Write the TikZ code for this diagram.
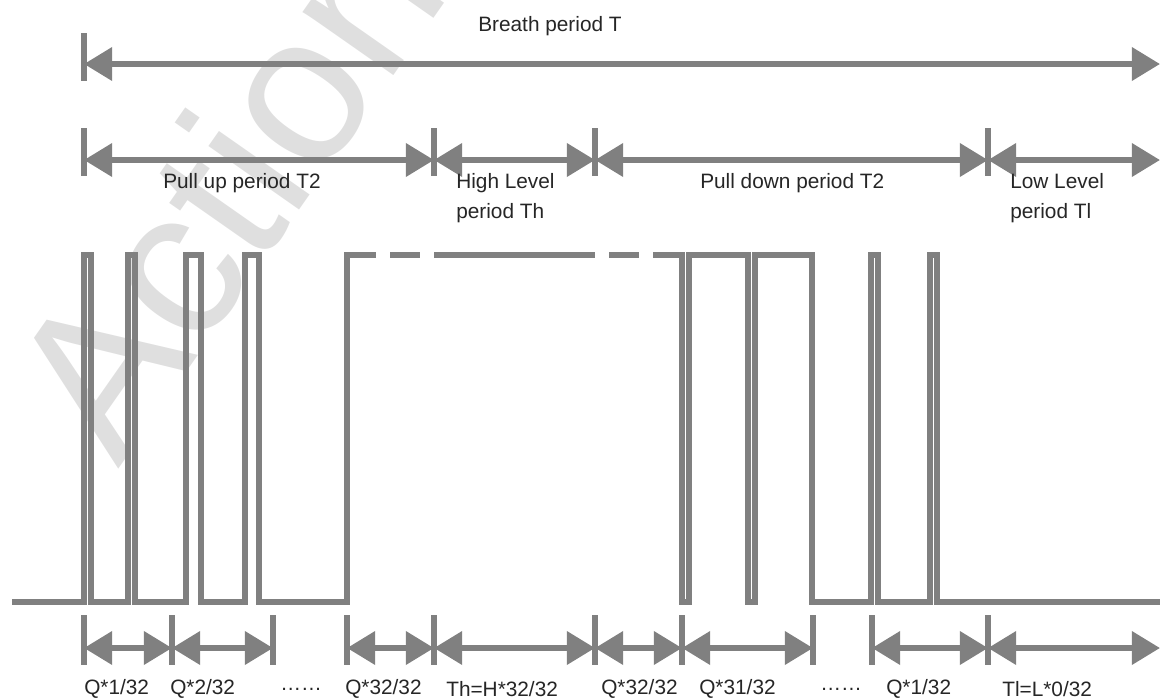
\documentclass[tikz,border=0pt]{standalone}
\usepackage{fontspec}
\setmainfont{Liberation Sans}
\usetikzlibrary{arrows.meta}

\tikzset{
    dimarrow/.style={draw=gray, line width=4.2pt, {Triangle[length=20pt,width=23pt]}-{Triangle[length=20pt,width=23pt]}},
    bar/.style={draw=gray, line width=4.2pt},
    wave/.style={draw=gray, line width=3.6pt},
    lbl/.style={font=\fontsize{14.8}{21.3}\selectfont, text=black!85, inner sep=0pt, align=left},
}

\begin{document}
\begin{tikzpicture}[x=0.025cm, y=-0.025cm]
    \useasboundingbox (0,0) rectangle (1160,699);
    \begin{scope}
    \clip (0,0) rectangle (1160,699);
    \node[text=gray!25, font=\fontsize{149}{149}\selectfont, rotate=55, inner sep=0pt] (mark) at (254,145) {Actions};
    \end{scope}

    % breath period
    \coordinate (b0) at (84,64);
    \coordinate (b1) at (1160,64);
    \draw[bar] (84,33) -- (84,81);
    \draw[dimarrow] (b0) -- (b1);
    \node[lbl] (breath) at (550,26) {Breath period T};

    % periods
    \coordinate (p0) at (84,160);
    \coordinate (p1) at (434,160);
    \coordinate (p2) at (595,160);
    \coordinate (p3) at (988,160);
    \coordinate (p4) at (1160,160);
    \foreach \x in {84,434,595,988} {
        \draw[bar] (\x,128) -- (\x,176);
    }
    \draw[dimarrow] (p0) -- (p1);
    \draw[dimarrow] (p1) -- (p2);
    \draw[dimarrow] (p2) -- (p3);
    \draw[dimarrow] (p3) -- (p4);
    \node[lbl, anchor=west] (pullup) at (163,183) {Pull up period T2};
    \node[lbl, anchor=west] (high) at (456,198) {High Level\\period Th};
    \node[lbl, anchor=west] (pulldown) at (700,183) {Pull down period T2};
    \node[lbl, anchor=west] (low) at (1010,198) {Low Level\\period Tl};

    % waveform
    \draw[wave] (12,602) -| (84,255) -| (91,602) -| (128,255) -| (135,602) -| (186,255)
        -| (201,602) -| (245,255) -| (259,602) -| (347,255) -- (376,255);
    \draw[wave] (390,255) -- (420,255);
    \draw[wave] (434,255) -- (595,255);
    \draw[wave] (609,255) -- (639,255);
    \draw[wave] (653,255) -| (682,602) -| (689,255) -| (748,602) -| (755,255) -| (812,602)
        -| (871,255) -| (878,602) -| (930,255) -| (937,602) -- (1160,602);

    % slots
    \foreach \x [count=\i] in {84,172,273,347,434,595,682,813,872,988,1160} {
        \coordinate (s\i) at (\x,648);
    }
    \foreach \x in {84,172,273,347,434,595,682,813,872,988} {
        \draw[bar] (\x,615) -- (\x,665);
    }
    \draw[dimarrow] (s1) -- (s2);
    \draw[dimarrow] (s2) -- (s3);
    \draw[dimarrow] (s4) -- (s5);
    \draw[dimarrow] (s5) -- (s6);
    \draw[dimarrow] (s6) -- (s7);
    \draw[dimarrow] (s7) -- (s8);
    \draw[dimarrow] (s9) -- (s10);
    \draw[dimarrow] (s10) -- (s11);
    \node[lbl, anchor=west] (q1) at (84,689) {Q*1/32};
    \node[lbl, anchor=west] (q2) at (170,689) {Q*2/32};
    \node[lbl, anchor=west] (dots1) at (280,689) {……};
    \node[lbl, anchor=west] (q32) at (345,689) {Q*32/32};
    \node[lbl, anchor=west] (th) at (446,689) {Th=H*32/32};
    \node[lbl, anchor=west] (q32b) at (601,689) {Q*32/32};
    \node[lbl, anchor=west] (q31) at (699,689) {Q*31/32};
    \node[lbl, anchor=west] (dots2) at (820,689) {……};
    \node[lbl, anchor=west] (q1b) at (886,689) {Q*1/32};
    \node[lbl, anchor=west] (tl) at (1002,689) {Tl=L*0/32};
\end{tikzpicture}
\end{document}
